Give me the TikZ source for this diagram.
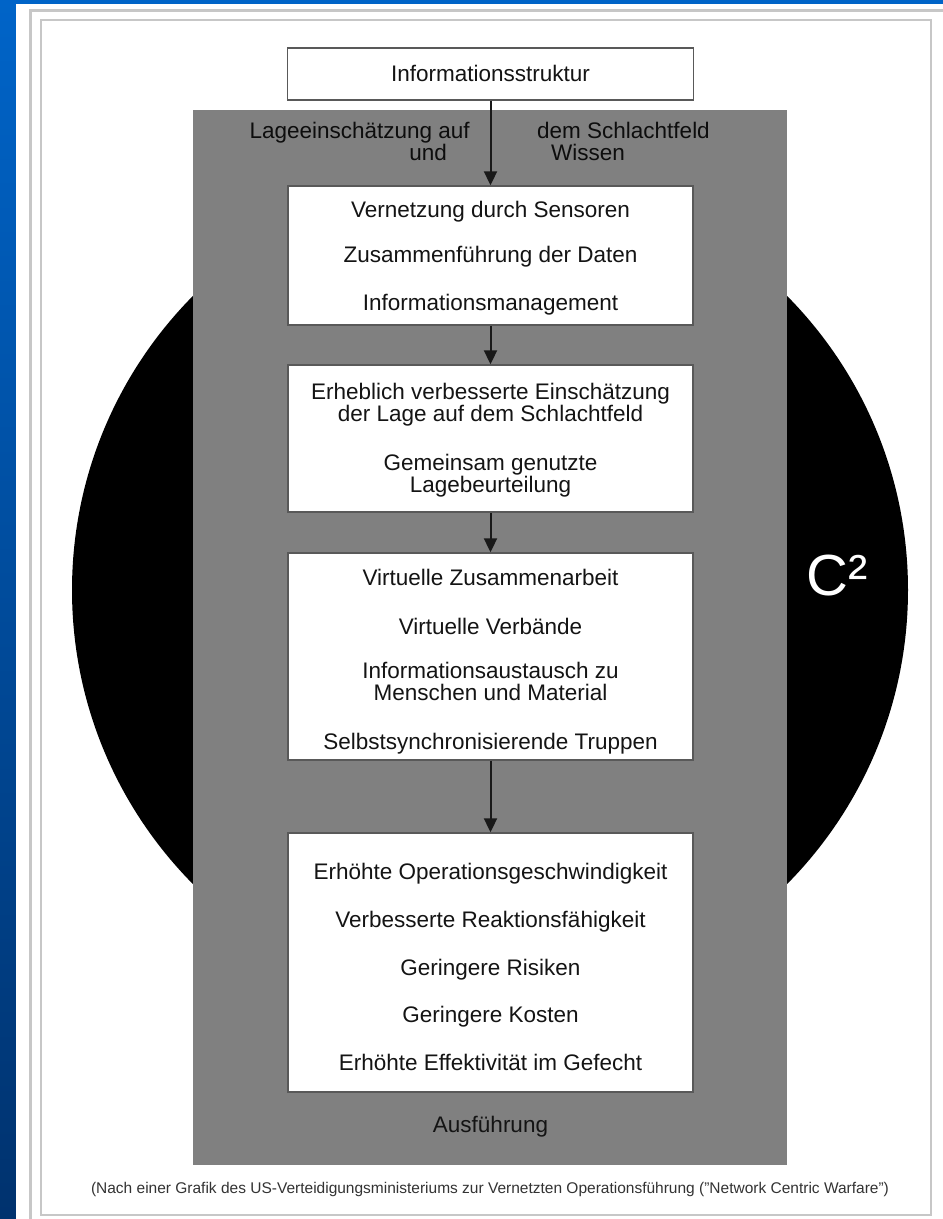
\documentclass[tikz,border=0pt]{standalone}
\usepackage{fontspec}
\setmainfont{Liberation Sans}
\usetikzlibrary{arrows.meta}
\definecolor{bluetop}{RGB}{0,100,200}
\definecolor{bluebot}{RGB}{0,50,110}
\definecolor{panelgrey}{RGB}{128,128,128}
\begin{document}
\begin{tikzpicture}[x=1pt,y=-1pt,
  bx/.style={draw=black!65, line width=1.4pt, fill=white, inner sep=0pt, minimum width=405pt},
  tx/.style={anchor=base, inner sep=0pt, font=\fontsize{22.5}{22.5}\selectfont, text=black!92},
  lbl/.style={inner sep=0pt, font=\fontsize{22.5}{22.5}\selectfont, text=black!95},
  arr/.style={line width=2pt, black!90, -{Triangle[width=13pt,length=14pt]}},
  frame/.style={draw=black!22}
]
\useasboundingbox (0,0) rectangle (943,1219);
% background
\shade[top color=bluetop, bottom color=bluebot] (0,0) rectangle (943,1219);
\fill[white] (16,4) rectangle (943,1219);
\draw[frame, line width=3pt] (30,10) rectangle (960,1240);
\draw[frame, line width=1.5pt] (41,20) rectangle (931,1215);
% circle and grey panel
\fill[black] (490,590) circle[radius=418];
\fill[panelgrey] (193,110) rectangle (787,1165);
\node[anchor=base west, inner sep=0pt, text=white, font=\fontsize{58}{58}\selectfont] (c2) at (806,595) {C²};
% boxes
\node[bx, minimum height=52pt, minimum width=406pt] (top) at (490.5,74) {};
\node[bx, minimum height=139pt] (b1) at (490.5,255.5) {};
\node[bx, minimum height=147pt] (b2) at (490.5,438.5) {};
\node[bx, minimum height=207pt] (b3) at (490.5,656.5) {};
\node[bx, minimum height=259pt] (b4) at (490.5,962.5) {};
% arrows
\draw[arr] (top.south) -- (b1.north);
\draw[arr] (b1.south) -- (b2.north);
\draw[arr] (b2.south) -- (b3.north);
\draw[arr] (b3.south) -- (b4.north);
% texts
\node[tx] (ttop) at (490.5,81) {Informationsstruktur};
\node[lbl, anchor=base east] (l1) at (470,138) {Lageeinschätzung auf};
\node[lbl, anchor=base east] (l2) at (447,160) {und};
\node[lbl, anchor=base west] (r1) at (537,138) {dem Schlachtfeld};
\node[lbl, anchor=base west] (r2) at (551,160) {Wissen};
\node[tx] (t1a) at (490.5,217) {Vernetzung durch Sensoren};
\node[tx] (t1b) at (490.5,262) {Zusammenführung der Daten};
\node[tx] (t1c) at (490.5,310) {Informationsmanagement};
\node[tx] (t2a) at (490.5,399) {Erheblich verbesserte Einschätzung};
\node[tx] (t2b) at (490.5,421) {der Lage auf dem Schlachtfeld};
\node[tx] (t2c) at (490.5,470) {Gemeinsam genutzte};
\node[tx] (t2d) at (490.5,492) {Lagebeurteilung};
\node[tx] (t3a) at (490.5,585) {Virtuelle Zusammenarbeit};
\node[tx] (t3b) at (490.5,634) {Virtuelle Verbände};
\node[tx] (t3c) at (490.5,678) {Informationsaustausch zu};
\node[tx] (t3d) at (490.5,700) {Menschen und Material};
\node[tx] (t3e) at (490.5,749) {Selbstsynchronisierende Truppen};
\node[tx] (t4a) at (490.5,879) {Erhöhte Operationsgeschwindigkeit};
\node[tx] (t4b) at (490.5,927) {Verbesserte Reaktionsfähigkeit};
\node[tx] (t4c) at (490.5,975) {Geringere Risiken};
\node[tx] (t4d) at (490.5,1022) {Geringere Kosten};
\node[tx] (t4e) at (490.5,1070) {Erhöhte Effektivität im Gefecht};
\node[tx] (aus) at (490.5,1132) {Ausführung};
\node[anchor=base, inner sep=0pt, font=\fontsize{15.5}{15.5}\selectfont, text=black!80] (foot) at (490,1193) {(Nach einer Grafik des US-Verteidigungsministeriums zur Vernetzten Operationsführung (\symbol{34}Network Centric Warfare\symbol{34})};
\end{tikzpicture}
\end{document}
